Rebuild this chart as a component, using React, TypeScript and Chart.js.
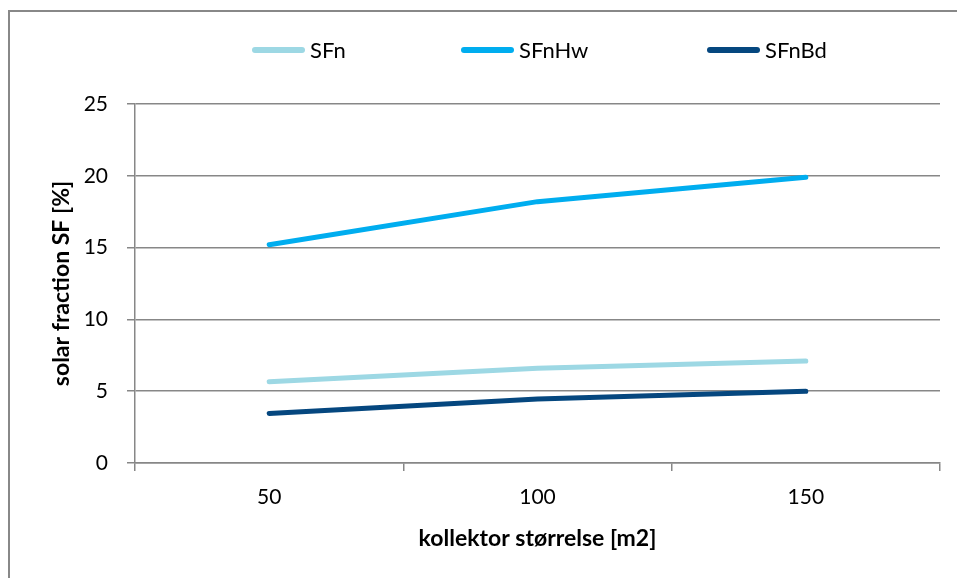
import { useEffect, useRef } from 'react';
import { Chart, registerables } from 'chart.js';

Chart.register(...registerables);

const categories = ['50', '100', '150'];
const seriesNames = ['SFn', 'SFnHw', 'SFnBd'];
const sfn = [5.65, 6.6, 7.1];
const sfnHw = [15.2, 18.2, 19.9];
const sfnBd = [3.45, 4.45, 5.0];
const yMin = 0;
const yMax = 25;
const yStep = 5;
const xTitle = 'kollektor størrelse [m2]';
const yTitle = 'solar fraction SF [%]';

const colors = ['#9DD8E4', '#00ADEF', '#05477F'];
const FONT = 'Lato, "Open Sans", sans-serif';
const GRID = '#878787';

const legendPlugin = {
  id: 'customLegend',
  afterDraw(chart: any) {
    const ctx = chart.ctx;
    const xs = [252, 461, 707];
    const y = 50;
    chart.data.datasets.forEach((ds: any, i: number) => {
      ctx.save();
      ctx.strokeStyle = ds.borderColor;
      ctx.lineWidth = 6;
      ctx.lineCap = 'round';
      ctx.beginPath();
      ctx.moveTo(xs[i] + 3, y);
      ctx.lineTo(xs[i] + 50, y);
      ctx.stroke();
      ctx.fillStyle = '#000';
      ctx.font = `22px ${FONT}`;
      ctx.textBaseline = 'middle';
      ctx.textAlign = 'left';
      ctx.fillText(ds.label, xs[i] + 58, y + 1);
      ctx.restore();
    });
  },
};

export default function App() {
  const ref = useRef<HTMLCanvasElement | null>(null);

  useEffect(() => {
    if (!ref.current) return;
    const series = [sfn, sfnHw, sfnBd];
    const chart = new Chart(ref.current, {
      type: 'line',
      data: {
        labels: categories,
        datasets: series.map((d, i) => ({
          label: seriesNames[i],
          data: d,
          borderColor: colors[i],
          backgroundColor: colors[i],
          borderWidth: 5,
          borderCapStyle: 'round',
          borderJoinStyle: 'round',
          pointRadius: 0,
          pointHoverRadius: 0,
          tension: 0,
          fill: false,
        })),
      },
      options: {
        animation: false,
        responsive: false,
        devicePixelRatio: 1,
        layout: { padding: { top: 104, right: 17, left: 0, bottom: 0 } },
        plugins: {
          legend: { display: false },
          tooltip: { enabled: false },
        },
        scales: {
          x: {
            type: 'category',
            offset: true,
            grid: {
              offset: true,
              drawOnChartArea: false,
              drawTicks: true,
              tickLength: 8,
              color: GRID,
              lineWidth: 1.5,
            },
            border: { display: true, color: GRID, width: 1.5 },
            ticks: {
              color: '#000',
              font: { family: FONT, size: 21 },
              padding: 13.4,
              maxRotation: 0,
            },
            title: {
              display: true,
              text: xTitle,
              color: '#000',
              font: { family: FONT, size: 23, weight: 'bold' },
              padding: { top: 0, bottom: 25.2 },
            },
            afterFit: (s: any) => {
              s.height = 115;
            },
          },
          y: {
            min: yMin,
            max: yMax,
            ticks: {
              stepSize: yStep,
              color: '#000',
              font: { family: FONT, size: 21 },
              padding: 19,
            },
            grid: {
              color: GRID,
              lineWidth: 1.5,
              tickLength: 8,
            },
            border: { display: true, color: GRID, width: 1.5 },
            title: {
              display: true,
              text: yTitle,
              color: '#000',
              font: { family: FONT, size: 23, weight: 'bold' },
              padding: { top: 48.2, bottom: 0 },
            },
            afterFit: (s: any) => {
              s.width = 135;
            },
          },
        },
      } as any,
      plugins: [legendPlugin],
    });
    return () => chart.destroy();
  }, []);

  return (
    <div
      style={{
        position: 'fixed',
        left: 0,
        top: 0,
        width: 957,
        height: 578,
        background: '#fff',
        overflow: 'hidden',
      }}
    >
      <div
        style={{
          position: 'absolute',
          left: 8,
          top: 10,
          width: 1000,
          height: 600,
          borderTop: '2px solid #888',
          borderLeft: '2px solid #888',
        }}
      />
      <canvas
        ref={ref}
        width={957}
        height={578}
        style={{ position: 'absolute', left: 0, top: 0, width: 957, height: 578 }}
      />
    </div>
  );
}
